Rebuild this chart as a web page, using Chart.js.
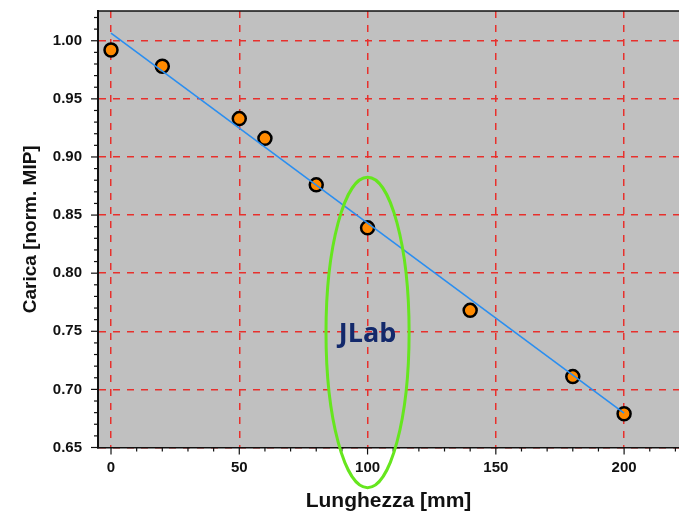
<!DOCTYPE html>
<html>
<head>
<meta charset="utf-8">
<script src="https://cdn.jsdelivr.net/npm/chart.js@4"></script>
<style>
 html, body { margin: 0; padding: 0; background: #fff; }
 #wrap { width: 679px; height: 514px; }
</style>
</head>
<body>
<div id="wrap"><canvas id="c" width="679" height="514"></canvas></div>
<script>
// measured points
const lengthMm = [0, 20, 50, 60, 80, 100, 140, 180, 200];
const charge = [0.992, 0.978, 0.933, 0.916, 0.876, 0.839, 0.768, 0.711, 0.679];

// linear fit, drawn from first to last length
const fitX = [0, 200];
const fitY = [1.0066, 0.6795];

// axis ticks
const xTicks = [0, 10, 20, 30, 40, 50, 60, 70, 80, 90, 100, 110, 120, 130, 140, 150, 160, 170, 180, 190, 200, 210, 220];
const xMajor = [0, 50, 100, 150, 200];
const yTicks = [0.65, 0.66, 0.67, 0.68, 0.69, 0.70, 0.71, 0.72, 0.73, 0.74, 0.75, 0.76, 0.77, 0.78, 0.79, 0.80,
 0.81, 0.82, 0.83, 0.84, 0.85, 0.86, 0.87, 0.88, 0.89, 0.90, 0.91, 0.92, 0.93, 0.94, 0.95, 0.96, 0.97, 0.98, 0.99, 1.00, 1.01, 1.02];
const yMajor = [0.65, 0.70, 0.75, 0.80, 0.85, 0.90, 0.95, 1.00];

// annotation: ellipse around the JLab point
const markLabel = 'JLab';
const markCenter = [100, 0.749];
const markRadius = [16.2, 0.1336];

const isMajor = (list, v) => list.some(m => Math.abs(m - v) < 1e-6);

const plotBg = {
 id: 'plotBg',
 beforeDraw(chart) {
  const a = chart.chartArea, ctx = chart.ctx;
  ctx.save();
  ctx.fillStyle = '#c0c0c0';
  ctx.fillRect(a.left, a.top, a.right - a.left, a.bottom - a.top);
  ctx.restore();
 },
 afterDraw(chart) {
  const a = chart.chartArea, ctx = chart.ctx;
  const xs = chart.scales.x, ys = chart.scales.y;
  ctx.save();
  // top frame line
  ctx.strokeStyle = '#111';
  ctx.lineWidth = 1.5;
  ctx.beginPath();
  ctx.moveTo(a.left, a.top);
  ctx.lineTo(a.right, a.top);
  ctx.stroke();
  // tick marks, long for major, short for minor
  ctx.lineWidth = 1.2;
  xTicks.forEach(v => {
   const p = xs.getPixelForValue(v);
   const len = isMajor(xMajor, v) ? 7 : 4;
   ctx.beginPath();
   ctx.moveTo(p, a.bottom);
   ctx.lineTo(p, a.bottom + len);
   ctx.stroke();
  });
  yTicks.forEach(v => {
   const p = ys.getPixelForValue(v);
   const len = isMajor(yMajor, v) ? 7 : 4;
   ctx.beginPath();
   ctx.moveTo(a.left, p);
   ctx.lineTo(a.left - len, p);
   ctx.stroke();
  });
  // ellipse + label
  const cx = xs.getPixelForValue(markCenter[0]);
  const cy = ys.getPixelForValue(markCenter[1]);
  const rx = Math.abs(xs.getPixelForValue(markCenter[0] + markRadius[0]) - cx);
  const ry = Math.abs(ys.getPixelForValue(markCenter[1] + markRadius[1]) - cy);
  ctx.strokeStyle = '#66e61e';
  ctx.lineWidth = 3;
  ctx.beginPath();
  ctx.ellipse(cx, cy, rx, ry, 0, 0, Math.PI * 2);
  ctx.stroke();
  ctx.fillStyle = '#13296b';
  ctx.font = 'bold 27px "Open Sans", "Liberation Sans", sans-serif';
  ctx.textAlign = 'center';
  ctx.textBaseline = 'middle';
  ctx.fillText(markLabel, cx, cy + 2);
  ctx.restore();
 }
};

new Chart(document.getElementById('c'), {
 type: 'scatter',
 data: {
  datasets: [
   {
    label: 'fit',
    type: 'line',
    data: fitX.map((x, i) => ({ x: x, y: fitY[i] })),
    borderColor: '#2a8ef0',
    borderWidth: 1.6,
    pointRadius: 0,
    fill: false,
    order: 0
   },
   {
    label: 'charge',
    data: lengthMm.map((x, i) => ({ x: x, y: charge[i] })),
    backgroundColor: '#ff8a00',
    borderColor: '#000',
    borderWidth: 2.5,
    pointRadius: 6.5,
    order: 1
   }
  ]
 },
 options: {
  responsive: false,
  animation: false,
  layout: { autoPadding: false, padding: { top: 11, right: 0, left: 0, bottom: 0 } },
  plugins: { legend: { display: false }, tooltip: { enabled: false } },
  scales: {
   x: {
    type: 'linear',
    min: -5.07,
    max: 221.4,
    afterBuildTicks: s => { s.ticks = xTicks.map(v => ({ value: v })); },
    afterFit: s => { s.height = 66.5; s.paddingLeft = 0; s.paddingRight = 0; },
    ticks: {
     autoSkip: false,
     maxRotation: 0,
     padding: 11,
     color: '#111',
     font: { family: '"Liberation Sans", Arial, sans-serif', size: 15, weight: 'bold' },
     callback: v => isMajor(xMajor, v) ? String(v) : ''
    },
    grid: {
     drawTicks: false,
     color: c => (c.tick && isMajor(xMajor, c.tick.value)) ? '#e8302c' : 'rgba(0,0,0,0)',
     lineWidth: 1.5
    },
    border: { display: true, color: '#111', width: 1.5, dash: [7, 7] },
    title: {
     display: true,
     text: 'Lunghezza [mm]',
     color: '#111',
     padding: 0,
     font: { family: '"Liberation Sans", Arial, sans-serif', size: 21, weight: 'bold' }
    }
   },
   y: {
    type: 'linear',
    min: 0.65,
    max: 1.0256,
    afterBuildTicks: s => { s.ticks = yTicks.map(v => ({ value: v })); },
    afterFit: s => { s.width = 98; s.paddingTop = 0; s.paddingBottom = 0; },
    ticks: {
     autoSkip: false,
     padding: 16,
     color: '#111',
     font: { family: '"Liberation Sans", Arial, sans-serif', size: 15, weight: 'bold' },
     callback: v => isMajor(yMajor, v) ? v.toFixed(2) : ''
    },
    grid: {
     drawTicks: false,
     color: c => (c.tick && isMajor(yMajor, c.tick.value)) ? '#e8302c' : 'rgba(0,0,0,0)',
     lineWidth: 1.5
    },
    border: { display: true, color: '#111', width: 2, dash: [7, 7] },
    title: {
     display: true,
     text: 'Carica [norm. MIP]',
     color: '#111',
     padding: { top: 19, bottom: 0 },
     font: { family: '"Liberation Sans", Arial, sans-serif', size: 19, weight: 'bold' }
    }
   }
  }
 },
 plugins: [plotBg]
});
</script>
</body>
</html>
